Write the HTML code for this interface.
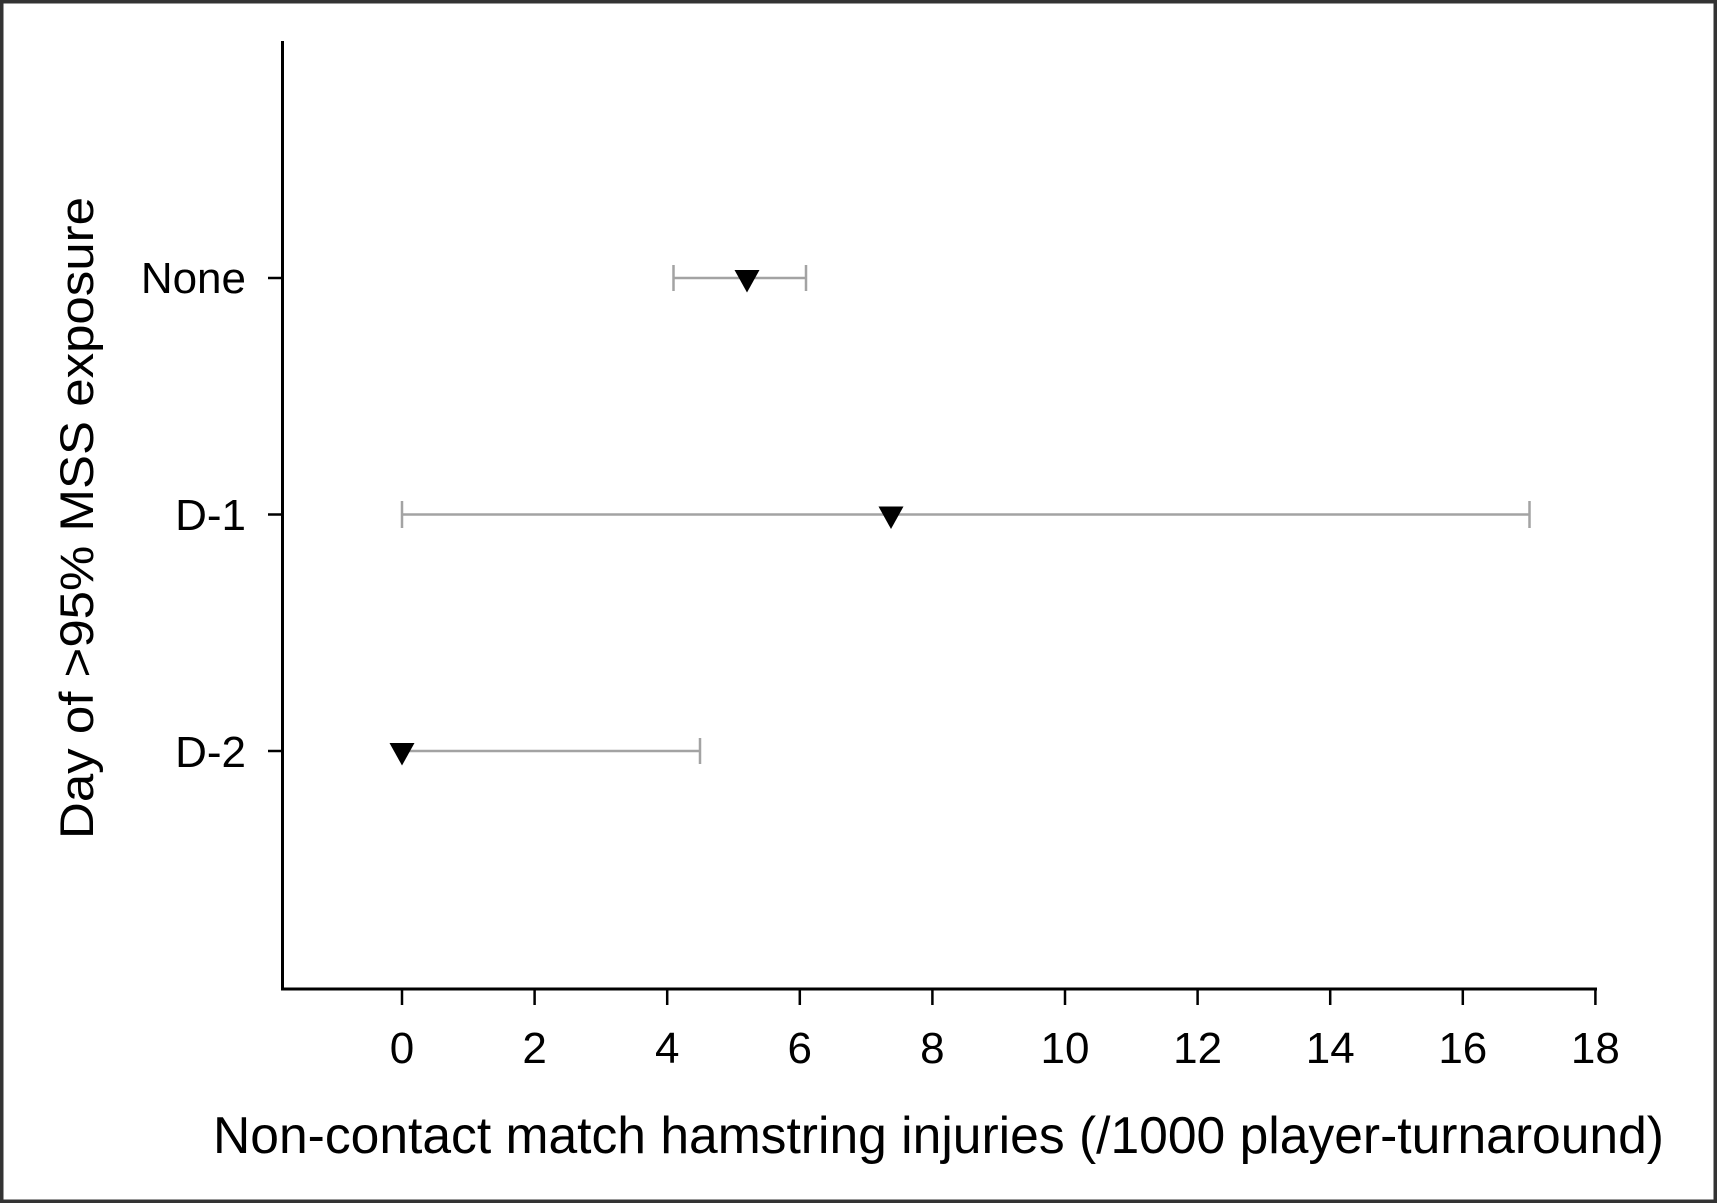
<!DOCTYPE html>
<html>
<head>
<meta charset="utf-8">
<style>
html,body{margin:0;padding:0;background:#fff;}
svg{display:block;}
text{font-family:"Liberation Sans",Arial,sans-serif;fill:#000;}
</style>
</head>
<body>
<svg width="1717" height="1203" viewBox="0 0 1717 1203" xmlns="http://www.w3.org/2000/svg">
<rect x="0" y="0" width="1717" height="1203" fill="#fff"/>
<rect x="1.75" y="1.75" width="1713.5" height="1199.5" fill="none" stroke="#333" stroke-width="3.5"/>

<!-- axes -->
<line x1="282.5" y1="41" x2="282.5" y2="990.5" stroke="#000" stroke-width="3"/>
<line x1="281" y1="989" x2="1597" y2="989" stroke="#000" stroke-width="3"/>

<!-- x ticks -->
<g stroke="#000" stroke-width="2.5">
<line x1="402" y1="989" x2="402" y2="1005"/>
<line x1="534.6" y1="989" x2="534.6" y2="1005"/>
<line x1="667.2" y1="989" x2="667.2" y2="1005"/>
<line x1="799.8" y1="989" x2="799.8" y2="1005"/>
<line x1="932.4" y1="989" x2="932.4" y2="1005"/>
<line x1="1065" y1="989" x2="1065" y2="1005"/>
<line x1="1197.6" y1="989" x2="1197.6" y2="1005"/>
<line x1="1330.2" y1="989" x2="1330.2" y2="1005"/>
<line x1="1462.8" y1="989" x2="1462.8" y2="1005"/>
<line x1="1595.4" y1="989" x2="1595.4" y2="1005"/>
</g>
<g font-size="44" text-anchor="middle">
<text x="402" y="1063">0</text>
<text x="534.6" y="1063">2</text>
<text x="667.2" y="1063">4</text>
<text x="799.8" y="1063">6</text>
<text x="932.4" y="1063">8</text>
<text x="1065" y="1063">10</text>
<text x="1197.6" y="1063">12</text>
<text x="1330.2" y="1063">14</text>
<text x="1462.8" y="1063">16</text>
<text x="1595.4" y="1063">18</text>
</g>

<!-- y ticks -->
<g stroke="#000" stroke-width="2.5">
<line x1="268" y1="278" x2="283" y2="278"/>
<line x1="268" y1="514.5" x2="283" y2="514.5"/>
<line x1="268" y1="751" x2="283" y2="751"/>
</g>
<g font-size="44" text-anchor="end">
<text x="246" y="293">None</text>
<text x="246" y="530">D-1</text>
<text x="246" y="767">D-2</text>
</g>

<!-- axis titles -->
<text x="938.5" y="1153" font-size="52" text-anchor="middle" textLength="1451" lengthAdjust="spacingAndGlyphs">Non-contact match hamstring injuries (/1000 player-turnaround)</text>
<text transform="translate(93,518) rotate(-90)" x="0" y="0" font-size="47" text-anchor="middle" textLength="642" lengthAdjust="spacingAndGlyphs">Day of &gt;95% MSS exposure</text>

<!-- error bars -->
<g stroke="#a3a3a3" stroke-width="2.5" fill="none">
<!-- None: 4.1 - 6.1 -->
<line x1="673.5" y1="278" x2="806" y2="278"/>
<line x1="673.5" y1="265" x2="673.5" y2="291"/>
<line x1="806" y1="265" x2="806" y2="291"/>
<!-- D-1: 0 - 17 -->
<line x1="402" y1="514.5" x2="1529.5" y2="514.5"/>
<line x1="402" y1="501" x2="402" y2="528"/>
<line x1="1529.5" y1="501" x2="1529.5" y2="528"/>
<!-- D-2: 0 - 4.5 -->
<line x1="402" y1="751" x2="700" y2="751"/>
<line x1="700" y1="738" x2="700" y2="764"/>
</g>

<!-- markers -->
<g fill="#000">
<polygon points="734.5,270 759.5,270 747,292.5"/>
<polygon points="878.5,506.5 903.5,506.5 891,529"/>
<polygon points="389.5,743 414.5,743 402,765.5"/>
</g>
</svg>
</body>
</html>
